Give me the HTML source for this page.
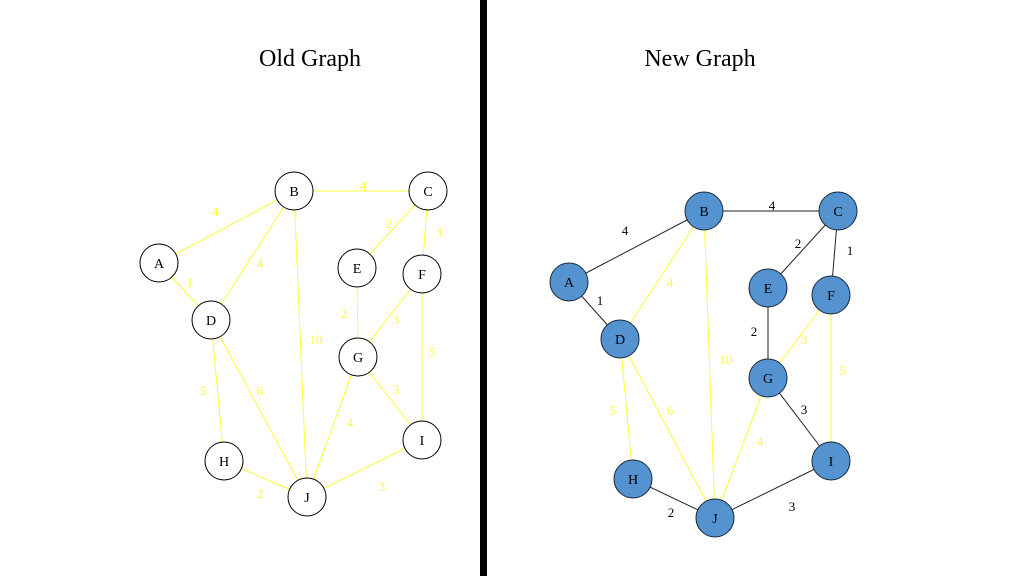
<!DOCTYPE html>
<html><head><style>html,body{margin:0;padding:0;background:#fff;}svg{display:block}</style></head>
<body>
<svg width="1024" height="576" viewBox="0 0 1024 576" xmlns="http://www.w3.org/2000/svg" font-family="Liberation Serif, serif">
<rect x="0" y="0" width="1024" height="576" fill="#fff"/>
<rect x="480" y="0" width="7" height="576" fill="#000"/>
<text x="310" y="66" font-size="24" text-anchor="middle">Old Graph</text>
<text x="700" y="66" font-size="24" text-anchor="middle">New Graph</text>
<!-- Old edges -->
<g stroke="#ffff33" stroke-width="1">
<line x1="159" y1="263" x2="294" y2="191"/>
<line x1="294" y1="191" x2="428" y2="191"/>
<line x1="428" y1="191" x2="357" y2="268"/>
<line x1="428" y1="191" x2="422" y2="274"/>
<line x1="159" y1="263" x2="211" y2="320"/>
<line x1="294" y1="191" x2="211" y2="320"/>
<line x1="294" y1="191" x2="307" y2="497"/>
<line x1="357" y1="268" x2="358" y2="357"/>
<line x1="422" y1="274" x2="358" y2="357"/>
<line x1="422" y1="274" x2="422" y2="440"/>
<line x1="211" y1="320" x2="224" y2="461"/>
<line x1="211" y1="320" x2="307" y2="497"/>
<line x1="358" y1="357" x2="422" y2="440"/>
<line x1="358" y1="357" x2="307" y2="497"/>
<line x1="224" y1="461" x2="307" y2="497"/>
<line x1="307" y1="497" x2="422" y2="440"/>
</g>
<g font-size="13" fill="#ffff33" text-anchor="middle">
<text x="215" y="216">4</text><text x="363" y="190">4</text><text x="389" y="228">2</text><text x="440" y="236">1</text>
<text x="190" y="287">1</text><text x="260" y="268">4</text><text x="344" y="318">2</text><text x="396" y="324">3</text>
<text x="316" y="344">10</text><text x="432" y="356">5</text><text x="203" y="395">5</text><text x="260" y="395">6</text>
<text x="396" y="394">3</text><text x="350" y="427">4</text><text x="260" y="498">2</text><text x="382" y="491">3</text>
</g>
<g fill="#fff" stroke="#000" stroke-width="1">
<circle cx="294" cy="191" r="19"/><circle cx="428" cy="191" r="19"/><circle cx="159" cy="263" r="19"/>
<circle cx="211" cy="320" r="19"/><circle cx="357" cy="268" r="19"/><circle cx="422" cy="274" r="19"/>
<circle cx="358" cy="357" r="19"/><circle cx="224" cy="461" r="19"/><circle cx="307" cy="497" r="19"/>
<circle cx="422" cy="440" r="19"/>
</g>
<g font-size="14" text-anchor="middle" fill="#000">
<text x="294" y="196">B</text><text x="428" y="196">C</text><text x="159" y="268">A</text><text x="211" y="325">D</text>
<text x="357" y="273">E</text><text x="422" y="279">F</text><text x="358" y="362">G</text><text x="224" y="466">H</text>
<text x="307" y="502">J</text><text x="422" y="445">I</text>
</g>
<!-- New edges -->
<g stroke="#ffff33" stroke-width="1">
<line x1="704" y1="211" x2="620" y2="339"/>
<line x1="704" y1="211" x2="715" y2="518"/>
<line x1="831" y1="295" x2="768" y2="378"/>
<line x1="831" y1="295" x2="831" y2="461"/>
<line x1="620" y1="339" x2="633" y2="479"/>
<line x1="620" y1="339" x2="715" y2="518"/>
<line x1="768" y1="378" x2="715" y2="518"/>
</g>
<g stroke="#222" stroke-width="1">
<line x1="569" y1="282" x2="704" y2="211"/>
<line x1="704" y1="211" x2="838" y2="211"/>
<line x1="838" y1="211" x2="768" y2="288"/>
<line x1="838" y1="211" x2="831" y2="295"/>
<line x1="569" y1="282" x2="620" y2="339"/>
<line x1="768" y1="288" x2="768" y2="378"/>
<line x1="768" y1="378" x2="831" y2="461"/>
<line x1="633" y1="479" x2="715" y2="518"/>
<line x1="715" y1="518" x2="831" y2="461"/>
</g>
<g font-size="13" text-anchor="middle">
<text x="625" y="235" fill="#000">4</text><text x="772" y="210" fill="#000">4</text><text x="798" y="248" fill="#000">2</text><text x="850" y="255" fill="#000">1</text>
<text x="600" y="305" fill="#000">1</text><text x="670" y="287" fill="#ffff33">4</text><text x="754" y="336" fill="#000">2</text><text x="804" y="344" fill="#ffff33">3</text>
<text x="726" y="364" fill="#ffff33">10</text><text x="843" y="375" fill="#ffff33">5</text><text x="613" y="415" fill="#ffff33">5</text><text x="670" y="415" fill="#ffff33">6</text>
<text x="804" y="414" fill="#000">3</text><text x="760" y="446" fill="#ffff33">4</text><text x="671" y="517" fill="#000">2</text><text x="792" y="511" fill="#000">3</text>
</g>
<g fill="#5592d0" stroke="#1a2a3a" stroke-width="1">
<circle cx="704" cy="211" r="19"/><circle cx="838" cy="211" r="19"/><circle cx="569" cy="282" r="19"/>
<circle cx="620" cy="339" r="19"/><circle cx="768" cy="288" r="19"/><circle cx="831" cy="295" r="19"/>
<circle cx="768" cy="378" r="19"/><circle cx="633" cy="479" r="19"/><circle cx="715" cy="518" r="19"/>
<circle cx="831" cy="461" r="19"/>
</g>
<g font-size="14" text-anchor="middle" fill="#000">
<text x="704" y="216">B</text><text x="838" y="216">C</text><text x="569" y="287">A</text><text x="620" y="344">D</text>
<text x="768" y="293">E</text><text x="831" y="300">F</text><text x="768" y="383">G</text><text x="633" y="484">H</text>
<text x="715" y="523">J</text><text x="831" y="466">I</text>
</g>
</svg>
</body></html>
